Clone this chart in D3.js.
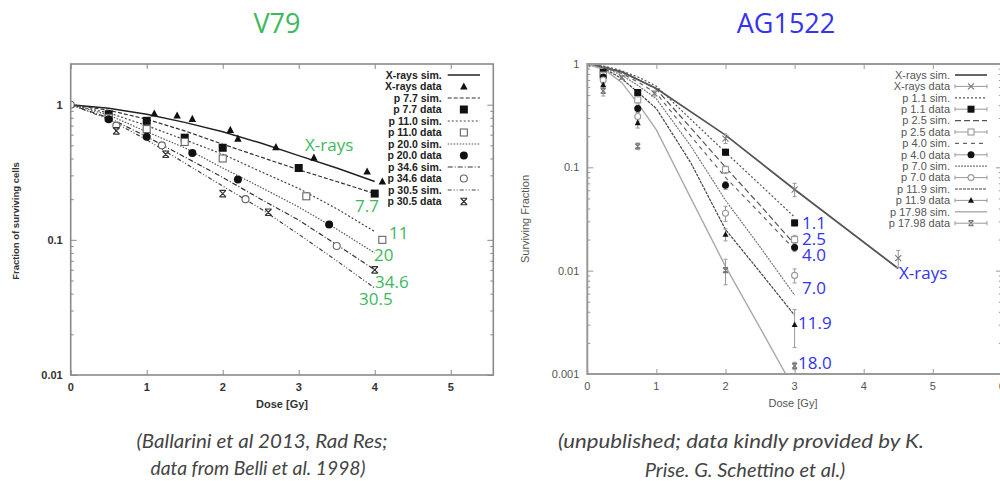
<!DOCTYPE html>
<html><head><meta charset="utf-8">
<script src="https://cdn.jsdelivr.net/npm/d3@7"></script>
<style>body{margin:0;background:#fff} svg{display:block}</style>
</head><body><svg id="c" width="1000" height="481"></svg>
<script>
// ---------- V79 (left panel) ----------
const v79SimDose   = [0, 0.5, 1, 1.5, 2, 2.5, 3, 3.5, 4];
const v79SimXrays  = [1, 0.94, 0.85, 0.74, 0.63, 0.52, 0.42, 0.34, 0.27];
const v79Sim77     = [1, 0.91, 0.78, 0.64, 0.51, 0.41, 0.33, 0.27, 0.22];
const v79Sim110    = [1, 0.87, 0.70, 0.55, 0.43, 0.32, 0.24, 0.17, 0.115];
const v79Sim200    = [1, 0.84, 0.63, 0.48, 0.34, 0.245, 0.175, 0.12, 0.08];
const v79Sim346    = [1, 0.80, 0.58, 0.41, 0.29, 0.20, 0.14, 0.092, 0.06];
const v79Sim305    = [1, 0.78, 0.55, 0.37, 0.25, 0.17, 0.11, 0.07, 0.044];

const v79XraysDose = [0, 1.1, 1.4, 1.6, 2.1, 2.2, 2.7, 3.2, 3.9, 4.1];
const v79XraysVal  = [1, 0.86, 0.83, 0.785, 0.65, 0.56, 0.485, 0.405, 0.32, 0.27];
const v79P77Dose   = [0.5, 1, 1.5, 2, 3, 4];
const v79P77Val    = [0.85, 0.76, 0.57, 0.48, 0.34, 0.22];
const v79P110Dose  = [0.5, 1, 1.5, 2, 3.1, 4.1];
const v79P110Val   = [0.80, 0.66, 0.53, 0.40, 0.21, 0.10];
const v79P200Dose  = [0.5, 1, 1.6, 2.2, 3.4];
const v79P200Val   = [0.78, 0.58, 0.44, 0.28, 0.13];
const v79P346Dose  = [0, 0.6, 1.2, 2.3, 3.5];
const v79P346Val   = [1, 0.70, 0.50, 0.20, 0.09];
const v79P305Dose  = [0.6, 1.25, 2.0, 2.6, 4.0];
const v79P305Val   = [0.64, 0.43, 0.22, 0.16, 0.06];

const v79Legend = ["X-rays sim.", "X-rays data", "p 7.7 sim.", "p 7.7 data", "p 11.0 sim.", "p 11.0 data",
                   "p 20.0 sim.", "p 20.0 data", "p 34.6 sim.", "p 34.6 data", "p 30.5 sim.", "p 30.5 data"];
const v79Labels = ["X-rays", "7.7", "11", "20", "34.6", "30.5"];
const v79XTicks = [0, 1, 2, 3, 4, 5];
const v79YTicks = [0.01, 0.1, 1];
const v79YTickLabels = ["0.01", "0.1", "1"];

// ---------- AG1522 (right panel) ----------
const agXraysSimDose = [0, 0.5, 1, 2, 3, 4.5];
const agXraysSim     = [1, 0.84, 0.58, 0.205, 0.061, 0.0105];
const agSimDose   = [0, 0.25, 0.5, 0.75, 1, 1.5, 2, 2.5, 3];
const agSim11     = [1, 0.95, 0.86, 0.74, 0.61, 0.29, 0.14, 0.068, 0.033];
const agSim25     = [1, 0.94, 0.84, 0.70, 0.57, 0.24, 0.10, 0.043, 0.018];
const agSim40     = [1, 0.93, 0.81, 0.66, 0.52, 0.20, 0.08, 0.036, 0.016];
const agSim70     = [1, 0.92, 0.78, 0.61, 0.46, 0.16, 0.048, 0.017, 0.0058];
const agSim119    = [1, 0.90, 0.72, 0.52, 0.37, 0.11, 0.025, 0.0097, 0.0037];
const agSim1798   = [1, 0.88, 0.66, 0.40, 0.23, 0.05, 0.011, 0.0028, 0.0007];

const agXraysDose = [0, 0.5, 0.97, 2, 3, 4.5];
const agXraysVal  = [1, 0.74, 0.52, 0.19, 0.061, 0.0132];
const agXraysErr  = [0, 0.03, 0.03, 0.02, 0.009, 0.0025];
const agDose      = [0.23, 0.73, 2, 3];
const ag11Val     = [0.83, 0.53, 0.14, 0.029];
const ag11Err     = [0.04, 0.03, 0.01, 0.002];
const ag25Val     = [0.78, 0.45, 0.095, 0.02];
const ag25Err     = [0.04, 0.03, 0.008, 0.002];
const ag40Val     = [0.75, 0.37, 0.067, 0.0168];
const ag40Err     = [0.04, 0.03, 0.006, 0.0015];
const ag70Val     = [0.70, 0.31, 0.036, 0.009];
const ag70Err     = [0.05, 0.03, 0.006, 0.0014];
const ag119Val    = [0.63, 0.27, 0.0224, 0.003];
const ag119Err    = [0.05, 0.03, 0.003, 0.0012];
const ag1798Val   = [0.55, 0.16, 0.0101, 0.0012];
const ag1798Err   = [0.06, 0.012, 0.0028, 0.0001];

const agLegend = ["X-rays sim.", "X-rays data", "p 1.1 sim.", "p 1.1 data", "p 2.5 sim.", "p 2.5 data",
                  "p 4.0 sim.", "p 4.0 data", "p 7.0 sim.", "p 7.0 data", "p 11.9 sim.", "p 11.9 data",
                  "p 17.98 sim.", "p 17.98 data"];
const agLabels = ["1.1", "2.5", "4.0", "7.0", "11.9", "18.0", "X-rays"];
const agXTicks = [0, 1, 2, 3, 4, 5, 6];
const agYTicks = [0.001, 0.01, 0.1, 1];
const agYTickLabels = ["0.001", "0.01", "0.1", "1"];

const titles = ["V79", "AG1522"];
const captionLeft = ["(Ballarini et al 2013, Rad Res;", "data from Belli et al. 1998)"];
const captionRight = ["(unpublished; data kindly provided by K.", "Prise. G. Schettino et al.)"];

// ---------- drawing ----------
const svg = d3.select("#c");
svg.append("rect").attr("width", 1000).attr("height", 481).attr("fill", "#fff");
const GREEN = "#3cb95c", BLUE = "#3333f0";
const SANS = "Liberation Sans, Arial, sans-serif";

function symbol(g, type, cx, cy, s, col) {
  const h = s / 2;
  if (type === "tri") {
    g.append("path").attr("d", `M${cx},${cy - h * 1.1}L${cx + h},${cy + h * 0.8}L${cx - h},${cy + h * 0.8}Z`).attr("fill", col);
  } else if (type === "sq") {
    g.append("rect").attr("x", cx - h).attr("y", cy - h).attr("width", s).attr("height", s).attr("fill", col);
  } else if (type === "osq") {
    g.append("rect").attr("x", cx - h + 0.5).attr("y", cy - h + 0.5).attr("width", s - 1).attr("height", s - 1)
      .attr("fill", "#fff").attr("stroke", col).attr("stroke-width", 1.1);
  } else if (type === "dot") {
    g.append("circle").attr("cx", cx).attr("cy", cy).attr("r", h).attr("fill", col);
  } else if (type === "ocirc") {
    g.append("circle").attr("cx", cx).attr("cy", cy).attr("r", h - 0.5).attr("fill", "#fff").attr("stroke", col).attr("stroke-width", 1.1);
  } else if (type === "ast") {
    g.append("path").attr("d", `M${cx - h},${cy - h}L${cx + h},${cy + h}M${cx - h},${cy + h}L${cx + h},${cy - h}M${cx - h},${cy - h}L${cx + h},${cy - h}M${cx - h},${cy + h}L${cx + h},${cy + h}`)
      .attr("stroke", col).attr("stroke-width", 1.2).attr("fill", "none");
  } else if (type === "x") {
    g.append("path").attr("d", `M${cx - h},${cy - h}L${cx + h},${cy + h}M${cx - h},${cy + h}L${cx + h},${cy - h}`)
      .attr("stroke", col).attr("stroke-width", 1.1).attr("fill", "none");
  }
}

function panel(cfg) {
  const g = svg.append("g");
  const x = d3.scaleLinear().domain(cfg.xDomain).range([cfg.left, cfg.right]);
  const y = d3.scaleLog().domain(cfg.yDomain).range([cfg.bottom, cfg.top]);
  const clipId = "clip" + cfg.id;
  svg.append("clipPath").attr("id", clipId).append("rect")
    .attr("x", cfg.left).attr("y", cfg.top).attr("width", cfg.right - cfg.left).attr("height", cfg.bottom - cfg.top);

  const yMinor = [];
  const lo = Math.log10(cfg.yDomain[0]), hi = Math.log10(cfg.yDomain[1]);
  for (let e = Math.floor(lo); e <= Math.ceil(hi); e++)
    for (let m = 2; m <= 9; m++) { const v = m * Math.pow(10, e); if (v > cfg.yDomain[0] && v < cfg.yDomain[1]) yMinor.push(v); }
  const tickCol = cfg.frameCol;
  const axL = d3.axisRight(y).tickValues(cfg.yTicks).tickSize(6).tickFormat("");
  const axLm = d3.axisRight(y).tickValues(yMinor).tickSize(3).tickFormat("");
  const axR = d3.axisLeft(y).tickValues(cfg.yTicks).tickSize(6).tickFormat("");
  const axRm = d3.axisLeft(y).tickValues(yMinor).tickSize(3).tickFormat("");
  const axB = d3.axisTop(x).tickValues(cfg.xTicks).tickSize(5).tickFormat("");
  const axT = d3.axisBottom(x).tickValues(cfg.xTicks).tickSize(5).tickFormat("");
  [[axL, `translate(${cfg.left},0)`], [axLm, `translate(${cfg.left},0)`], [axR, `translate(${cfg.right},0)`],
   [axRm, `translate(${cfg.right},0)`], [axB, `translate(0,${cfg.bottom})`], [axT, `translate(0,${cfg.top})`]]
    .forEach(([ax, tr]) => {
      const a = g.append("g").attr("transform", tr).call(ax);
      a.select(".domain").remove();
      a.selectAll("line").attr("stroke", tickCol).attr("stroke-width", 1);
    });

  g.selectAll(null).data(cfg.xTicks).enter().append("text")
    .attr("x", d => x(d)).attr("y", cfg.bottom + 16).attr("text-anchor", "middle")
    .attr("font-family", SANS).attr("font-size", cfg.tickFont)
    .attr("font-weight", cfg.tickWeight).attr("fill", cfg.textCol).text(d => d);
  g.selectAll(null).data(cfg.yTicks).enter().append("text")
    .attr("x", cfg.left - 8).attr("y", d => y(d) + 4).attr("text-anchor", "end")
    .attr("font-family", SANS).attr("font-size", cfg.tickFont)
    .attr("font-weight", cfg.tickWeight).attr("fill", cfg.textCol).text((d, i) => cfg.yTickLabels[i]);

  g.append("text").attr("x", cfg.xLabelPos[0]).attr("y", cfg.xLabelPos[1]).attr("text-anchor", "middle")
    .attr("font-family", SANS).attr("font-size", cfg.labelFont)
    .attr("font-weight", cfg.tickWeight).attr("fill", cfg.textCol).text("Dose [Gy]");
  g.append("text").attr("transform", `translate(${cfg.yLabelPos[0]},${cfg.yLabelPos[1]}) rotate(-90)`)
    .attr("text-anchor", "middle").attr("font-family", SANS).attr("font-size", cfg.yLabelFont)
    .attr("font-weight", cfg.tickWeight).attr("fill", cfg.textCol).text(cfg.yLabel);

  const plot = g.append("g").attr("clip-path", `url(#${clipId})`);
  const line = d3.line().x(d => x(d[0])).y(d => y(d[1]));
  cfg.sims.forEach(s => {
    plot.append("path").datum(d3.zip(s.dose, s.val)).attr("d", line).attr("fill", "none")
      .attr("stroke", s.col).attr("stroke-width", s.w).attr("stroke-dasharray", s.dash || null);
  });
  cfg.data.forEach(s => {
    s.dose.forEach((d, i) => {
      const v = s.val[i];
      if (s.err && s.err[i] > 0) {
        const ya = y(v + s.err[i]), yb = y(Math.max(v - s.err[i], 1e-6));
        plot.append("path").attr("d", `M${x(d)},${ya}V${yb}M${x(d) - 2},${ya}H${x(d) + 2}M${x(d) - 2},${yb}H${x(d) + 2}`)
          .attr("stroke", "#999").attr("stroke-width", 1).attr("fill", "none");
      }
    });
  });
  cfg.data.forEach(s => {
    s.dose.forEach((d, i) => symbol(plot, s.sym, x(d), y(s.val[i]), s.size, s.col));
  });

  g.append("rect").attr("x", cfg.left).attr("y", cfg.top).attr("width", cfg.right - cfg.left).attr("height", cfg.bottom - cfg.top)
    .attr("fill", "none").attr("stroke", cfg.frameCol).attr("stroke-width", cfg.frameW);

  const lg = g.append("g");
  cfg.legend.forEach((t, i) => {
    const yy = cfg.legTop + i * cfg.legStep;
    lg.append("text").attr("x", cfg.legTextX).attr("y", yy + 3.8).attr("text-anchor", "end")
      .attr("font-family", SANS).attr("font-size", cfg.legFont)
      .attr("font-weight", cfg.tickWeight).attr("fill", cfg.legCol).text(t);
    const k = Math.floor(i / 2);
    if (i % 2 === 0) {
      const s = cfg.sims[k];
      lg.append("line").attr("x1", cfg.legX0).attr("x2", cfg.legX1).attr("y1", yy).attr("y2", yy)
        .attr("stroke", s.col).attr("stroke-width", s.w).attr("stroke-dasharray", s.dash || null);
    } else {
      const s = cfg.data[k];
      const cx = (cfg.legX0 + cfg.legX1) / 2;
      if (cfg.legErr) {
        lg.append("path").attr("d", `M${cfg.legX0},${yy}H${cfg.legX1}M${cfg.legX0},${yy - 2}V${yy + 2}M${cfg.legX1},${yy - 2}V${yy + 2}`)
          .attr("stroke", "#999").attr("stroke-width", 1);
      }
      symbol(lg, s.sym, cx, yy, s.size, s.col);
    }
  });

  cfg.labels.forEach((t, i) => {
    g.append("text").attr("x", cfg.labelPos[i][0]).attr("y", cfg.labelPos[i][1])
      .attr("font-family", "Open Sans, sans-serif").attr("font-size", 17).attr("fill", cfg.labelCol).text(t);
  });
  return g;
}

panel({
  id: "L", left: 70.7, right: 493.3, top: 64, bottom: 375,
  xDomain: [0, 5.56], yDomain: [0.01, 2], xTicks: v79XTicks, yTicks: v79YTicks, yTickLabels: v79YTickLabels,
  frameCol: "#8a8a8a", frameW: 1.6, textCol: "#333", tickFont: 11, tickWeight: "bold", labelFont: 11, yLabelFont: 9.5,
  xLabelPos: [282, 408], yLabelPos: [19, 221], yLabel: "Fraction of surviving cells",
  sims: [
    { dose: v79SimDose, val: v79SimXrays, col: "#222", w: 1.5 },
    { dose: v79SimDose, val: v79Sim77, col: "#333", w: 1.2, dash: "4,2" },
    { dose: v79SimDose, val: v79Sim110, col: "#444", w: 1.2, dash: "2,2" },
    { dose: v79SimDose, val: v79Sim200, col: "#555", w: 1.2, dash: "1.5,1.5" },
    { dose: v79SimDose, val: v79Sim346, col: "#333", w: 1.2, dash: "5,2,1,2" },
    { dose: v79SimDose, val: v79Sim305, col: "#444", w: 1.2, dash: "4,2,1,2,1,2" }
  ],
  data: [
    { dose: v79XraysDose, val: v79XraysVal, sym: "tri", size: 7.5, col: "#111" },
    { dose: v79P77Dose, val: v79P77Val, sym: "sq", size: 8, col: "#111" },
    { dose: v79P110Dose, val: v79P110Val, sym: "osq", size: 8, col: "#666" },
    { dose: v79P200Dose, val: v79P200Val, sym: "dot", size: 8, col: "#111" },
    { dose: v79P346Dose, val: v79P346Val, sym: "ocirc", size: 8, col: "#666" },
    { dose: v79P305Dose, val: v79P305Val, sym: "ast", size: 6.5, col: "#333" }
  ],
  legend: v79Legend, legTop: 75, legStep: 11.5, legTextX: 441.7, legX0: 447.7, legX1: 480, legFont: 10.5, legErr: false, legCol: "#222",
  labels: v79Labels, labelCol: GREEN,
  labelPos: [[305, 151], [355, 212], [389, 239], [374, 261], [375, 288], [359, 305]]
});

panel({
  id: "R", left: 587.3, right: 1001.9, top: 64, bottom: 374,
  xDomain: [0, 6], yDomain: [0.001, 1], xTicks: agXTicks, yTicks: agYTicks, yTickLabels: agYTickLabels,
  frameCol: "#999", frameW: 2, textCol: "#555", tickFont: 11, tickWeight: "normal", labelFont: 11, yLabelFont: 11,
  xLabelPos: [793, 407], yLabelPos: [529, 219], yLabel: "Surviving Fraction",
  sims: [
    { dose: agXraysSimDose, val: agXraysSim, col: "#555", w: 1.8 },
    { dose: agSimDose, val: agSim11, col: "#555", w: 1.2, dash: "2,2" },
    { dose: agSimDose, val: agSim25, col: "#555", w: 1.2, dash: "6,3" },
    { dose: agSimDose, val: agSim40, col: "#666", w: 1.2, dash: "4,4" },
    { dose: agSimDose, val: agSim70, col: "#777", w: 1.2, dash: "2,1" },
    { dose: agSimDose, val: agSim119, col: "#444", w: 1.2, dash: "3,1" },
    { dose: agSimDose, val: agSim1798, col: "#aaa", w: 1.4 }
  ],
  data: [
    { dose: agXraysDose, val: agXraysVal, err: agXraysErr, sym: "x", size: 6, col: "#777" },
    { dose: agDose, val: ag11Val, err: ag11Err, sym: "sq", size: 7, col: "#111" },
    { dose: agDose, val: ag25Val, err: ag25Err, sym: "osq", size: 7, col: "#999" },
    { dose: agDose, val: ag40Val, err: ag40Err, sym: "dot", size: 7, col: "#111" },
    { dose: agDose, val: ag70Val, err: ag70Err, sym: "ocirc", size: 7, col: "#999" },
    { dose: agDose, val: ag119Val, err: ag119Err, sym: "tri", size: 6, col: "#111" },
    { dose: agDose, val: ag1798Val, err: ag1798Err, sym: "ast", size: 5, col: "#777" }
  ],
  legend: agLegend, legTop: 75, legStep: 11.4, legTextX: 950, legX0: 955, legX1: 987, legFont: 11, legErr: true, legCol: "#555",
  labels: agLabels, labelCol: BLUE,
  labelPos: [[802, 229], [802, 245], [802, 261], [802, 294], [798, 329], [798, 369], [899, 279]]
});

svg.append("text").attr("x", 277).attr("y", 33).attr("text-anchor", "middle").attr("font-family", "Open Sans, sans-serif")
  .attr("font-size", 27).attr("fill", GREEN).text(titles[0]);
svg.append("text").attr("x", 786).attr("y", 33).attr("text-anchor", "middle").attr("font-family", "Open Sans, sans-serif")
  .attr("font-size", 27).attr("fill", BLUE).text(titles[1]);

function caption(lines, cx, ys, lens) {
  lines.forEach((t, i) => {
    const tx = svg.append("text").attr("x", cx[i]).attr("y", ys[i]).attr("text-anchor", "middle")
      .attr("font-family", "Lato, sans-serif").attr("font-style", "italic")
      .attr("font-size", 20).attr("fill", "#444").text(t);
    if (lens[i]) tx.attr("textLength", lens[i]).attr("lengthAdjust", "spacingAndGlyphs");
  });
}
caption(captionLeft, [262, 258], [448, 475], [251, 215]);
caption(captionRight, [741, 745], [448, 477], [366, 0]);
</script></body></html>
